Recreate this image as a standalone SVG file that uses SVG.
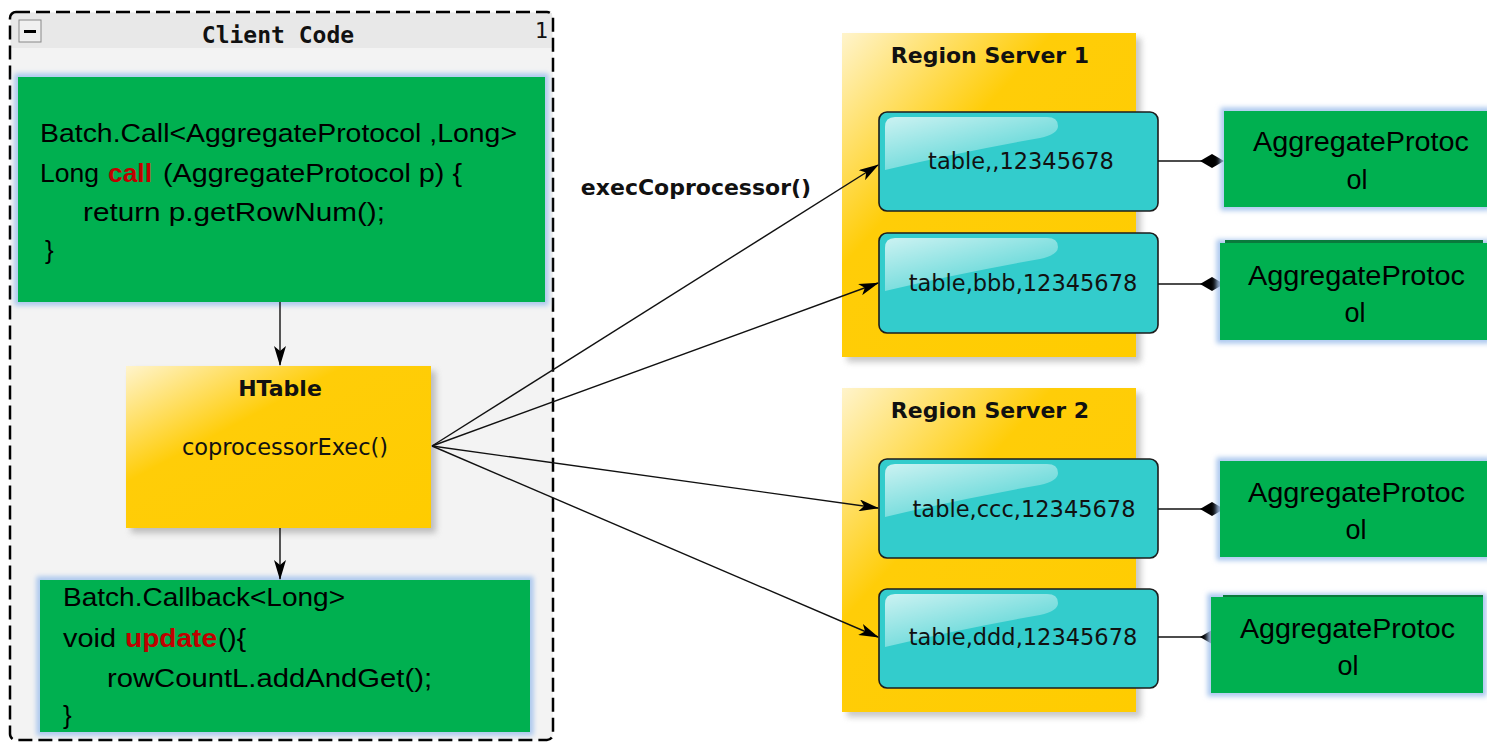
<svg xmlns="http://www.w3.org/2000/svg" width="1487" height="742" viewBox="0 0 1487 742">
  <style>
    .code { font-family: "Liberation Sans", Arial, sans-serif; font-size: 26px; fill: #000; }
    .hot { font-family: "Liberation Sans", Arial, sans-serif; font-size: 26px; font-weight: bold; fill: #c00000; }
    .proto { font-family: "Liberation Sans", Arial, sans-serif; font-size: 27px; fill: #000; }
    .title { font-family: "DejaVu Sans", sans-serif; font-size: 22px; font-weight: bold; fill: #111; }
    .label { font-family: "DejaVu Sans", sans-serif; font-size: 22.5px; fill: #111; }
    .green { fill: #00b050; }
    .glow { fill: none; stroke: #a8c6ee; stroke-width: 7; }
    .yellow { fill: url(#goldGloss); }
    .cell { fill: #33cccc; stroke: #1c1c1c; stroke-width: 1.6; }
    .shine { fill: url(#cellShine); }
    .edge { stroke: #111; stroke-width: 1.4; fill: none; }
  </style>
  <defs>
    <linearGradient id="goldGloss" x1="0" y1="0" x2="1" y2="1">
      <stop offset="0" stop-color="#fff4cc"/>
      <stop offset="0.22" stop-color="#ffdc55"/>
      <stop offset="0.36" stop-color="#ffcd08"/>
      <stop offset="1" stop-color="#ffcc00"/>
    </linearGradient>
    <linearGradient id="cellShine" x1="0" y1="0" x2="0.8" y2="1">
      <stop offset="0" stop-color="#ffffff" stop-opacity="0.75"/>
      <stop offset="1" stop-color="#ffffff" stop-opacity="0.12"/>
    </linearGradient>
    <filter id="soft" x="-10%" y="-10%" width="120%" height="120%">
      <feGaussianBlur stdDeviation="2.5"/>
    </filter>
    <filter id="shade" x="-10%" y="-10%" width="130%" height="130%">
      <feGaussianBlur stdDeviation="3"/>
    </filter>
    <marker id="arrow" viewBox="0 0 20 12" refX="19" refY="6" markerWidth="20" markerHeight="12" markerUnits="userSpaceOnUse" orient="auto">
      <path d="M0,0 L20,6 L0,12 L5,6 Z" fill="#000"/>
    </marker>
    <marker id="diamond" viewBox="0 0 24 14" refX="23" refY="7" markerWidth="24" markerHeight="14" markerUnits="userSpaceOnUse" orient="auto">
      <path d="M0,7 L12,0 L24,7 L12,14 Z" fill="#000"/>
    </marker>
  </defs>

  <rect x="0" y="0" width="1487" height="742" fill="#ffffff"/>

  <!-- Client Code container -->
  <g id="client-code">
    <rect x="10" y="12" width="543" height="728" rx="6" fill="#f3f3f3"/>
    <rect x="11" y="13" width="541" height="35" fill="#e8e8e8"/>
    <rect x="10" y="12" width="543" height="728" rx="6" fill="none" stroke="#000" stroke-width="2.5" stroke-dasharray="14 6"/>
    <rect x="19" y="20" width="22" height="22" fill="#f0f0f0" stroke="#888" stroke-width="1"/>
    <rect x="24" y="30" width="12" height="3" fill="#000"/>
    <text x="278" y="43" text-anchor="middle" style="font-family: 'DejaVu Sans Mono', monospace; font-size: 23px; font-weight: bold; fill: #111;">Client Code</text>
    <text x="548" y="38" text-anchor="end" style="font-family: 'DejaVu Sans Mono', monospace; font-size: 22px; fill: #111;">1</text>
  </g>

  <!-- Batch.Call implementation -->
  <g id="batch-call">
    <rect class="glow" x="18" y="77" width="527" height="225" filter="url(#soft)"/>
    <rect class="green" x="18" y="77" width="527" height="225"/>
    <text class="code" x="40" y="142" textLength="477" lengthAdjust="spacingAndGlyphs">Batch.Call&lt;AggregateProtocol ,Long&gt;</text>
    <text class="code" x="40" y="182" textLength="59" lengthAdjust="spacingAndGlyphs">Long</text>
    <text class="hot" x="108" y="182" textLength="44" lengthAdjust="spacingAndGlyphs">call</text>
    <text class="code" x="163" y="182" textLength="299" lengthAdjust="spacingAndGlyphs">(AggregateProtocol p) {</text>
    <text class="code" x="83" y="221" textLength="302" lengthAdjust="spacingAndGlyphs">return p.getRowNum();</text>
    <text class="code" x="45" y="259">}</text>
  </g>

  <!-- HTable -->
  <g id="htable">
    <rect x="131" y="371" width="305" height="162" fill="#999" opacity="0.6" filter="url(#shade)"/>
    <rect class="yellow" x="126" y="366" width="305" height="162"/>
    <text class="title" x="280" y="396" text-anchor="middle">HTable</text>
    <text class="label" x="285" y="455" text-anchor="middle">coprocessorExec()</text>
  </g>

  <!-- Batch.Callback implementation -->
  <g id="batch-callback">
    <rect class="glow" x="40" y="580" width="490" height="152" filter="url(#soft)"/>
    <rect class="green" x="40" y="580" width="490" height="152"/>
    <text class="code" x="63" y="606" textLength="282" lengthAdjust="spacingAndGlyphs">Batch.Callback&lt;Long&gt;</text>
    <text class="code" x="63" y="647" textLength="53" lengthAdjust="spacingAndGlyphs">void</text>
    <text class="hot" x="125" y="647" textLength="92" lengthAdjust="spacingAndGlyphs">update</text>
    <text class="code" x="218" y="647" textLength="28" lengthAdjust="spacingAndGlyphs">(){</text>
    <text class="code" x="107" y="687" textLength="325" lengthAdjust="spacingAndGlyphs">rowCountL.addAndGet();</text>
    <text class="code" x="63" y="724">}</text>
  </g>

  <!-- Region Server 1 -->
  <g id="region-server-1">
    <rect x="847" y="38" width="294" height="324" fill="#999" opacity="0.55" filter="url(#shade)"/>
    <rect class="yellow" x="842" y="33" width="294" height="324"/>
    <text class="title" x="990" y="63" text-anchor="middle">Region Server 1</text>
  </g>

  <!-- Region Server 2 -->
  <g id="region-server-2">
    <rect x="847" y="393" width="294" height="324" fill="#999" opacity="0.55" filter="url(#shade)"/>
    <rect class="yellow" x="842" y="388" width="294" height="324"/>
    <text class="title" x="990" y="418" text-anchor="middle">Region Server 2</text>
  </g>

  <!-- Regions -->
  <g id="region-aaa">
    <rect class="cell" x="879" y="112" width="279" height="99" rx="8"/>
    <path class="shine" d="M895,117 H1047 Q1058,117 1058,126 Q1058,134 1040,138 Q960,152 885,170 V127 Q885,117 895,117 Z"/>
    <text class="label" x="1021" y="169" text-anchor="middle">table,,12345678</text>
  </g>
  <g id="region-bbb">
    <rect class="cell" x="879" y="233" width="279" height="100" rx="8"/>
    <path class="shine" d="M895,238 H1047 Q1058,238 1058,247 Q1058,255 1040,259 Q960,273 885,291 V248 Q885,238 895,238 Z"/>
    <text class="label" x="1023" y="291" text-anchor="middle">table,bbb,12345678</text>
  </g>
  <g id="region-ccc">
    <rect class="cell" x="879" y="459" width="279" height="99" rx="8"/>
    <path class="shine" d="M895,464 H1047 Q1058,464 1058,473 Q1058,481 1040,485 Q960,499 885,517 V474 Q885,464 895,464 Z"/>
    <text class="label" x="1024" y="517" text-anchor="middle">table,ccc,12345678</text>
  </g>
  <g id="region-ddd">
    <rect class="cell" x="879" y="589" width="279" height="99" rx="8"/>
    <path class="shine" d="M895,594 H1047 Q1058,594 1058,603 Q1058,611 1040,615 Q960,629 885,647 V604 Q885,594 895,594 Z"/>
    <text class="label" x="1023" y="645" text-anchor="middle">table,ddd,12345678</text>
  </g>

  <!-- Connectors -->
  <g id="connectors">
    <line class="edge" x1="280" y1="302" x2="280" y2="365" marker-end="url(#arrow)"/>
    <line class="edge" x1="280" y1="528" x2="280" y2="579" marker-end="url(#arrow)"/>
    <line class="edge" x1="432" y1="446" x2="878" y2="165" marker-end="url(#arrow)"/>
    <line class="edge" x1="432" y1="446" x2="878" y2="283" marker-end="url(#arrow)"/>
    <line class="edge" x1="432" y1="446" x2="878" y2="508" marker-end="url(#arrow)"/>
    <line class="edge" x1="432" y1="446" x2="878" y2="637" marker-end="url(#arrow)"/>
    <line class="edge" x1="1158" y1="161" x2="1223" y2="161" marker-end="url(#diamond)"/>
    <line class="edge" x1="1158" y1="284" x2="1223" y2="284" marker-end="url(#diamond)"/>
    <line class="edge" x1="1158" y1="509" x2="1223" y2="509" marker-end="url(#diamond)"/>
    <line class="edge" x1="1158" y1="637" x2="1223" y2="637" marker-end="url(#diamond)"/>
    <text x="696" y="195" text-anchor="middle" style="font-family: 'DejaVu Sans', sans-serif; font-size: 22px; font-weight: bold; fill: #111;">execCoprocessor()</text>
  </g>

  <!-- AggregateProtocol instances -->
  <g id="protocol-1">
    <rect class="glow" x="1224" y="111" width="263" height="96" filter="url(#soft)"/>
    <rect class="green" x="1224" y="111" width="263" height="96"/>
    <text class="proto" x="1253" y="151" textLength="216" lengthAdjust="spacingAndGlyphs">AggregateProtoc</text>
    <text class="proto" x="1357" y="189" text-anchor="middle">ol</text>
  </g>
  <g id="protocol-2">
    <rect class="glow" x="1220" y="243" width="267" height="97" filter="url(#soft)"/>
    <rect x="1225" y="240" width="258" height="5" fill="#0a7a3c"/>
    <rect class="green" x="1220" y="243" width="267" height="97"/>
    <text class="proto" x="1248" y="285" textLength="217" lengthAdjust="spacingAndGlyphs">AggregateProtoc</text>
    <text class="proto" x="1355" y="322" text-anchor="middle">ol</text>
  </g>
  <g id="protocol-3">
    <rect class="glow" x="1220" y="461" width="267" height="96" filter="url(#soft)"/>
    <rect class="green" x="1220" y="461" width="267" height="96"/>
    <text class="proto" x="1248" y="502" textLength="217" lengthAdjust="spacingAndGlyphs">AggregateProtoc</text>
    <text class="proto" x="1356" y="539" text-anchor="middle">ol</text>
  </g>
  <g id="protocol-4">
    <rect class="glow" x="1211" y="597" width="272" height="96" filter="url(#soft)"/>
    <rect x="1223" y="595" width="260" height="4" fill="#0a7a3c"/>
    <rect class="green" x="1211" y="597" width="272" height="96"/>
    <text class="proto" x="1240" y="638" textLength="215" lengthAdjust="spacingAndGlyphs">AggregateProtoc</text>
    <text class="proto" x="1348" y="675" text-anchor="middle">ol</text>
  </g>
</svg>
